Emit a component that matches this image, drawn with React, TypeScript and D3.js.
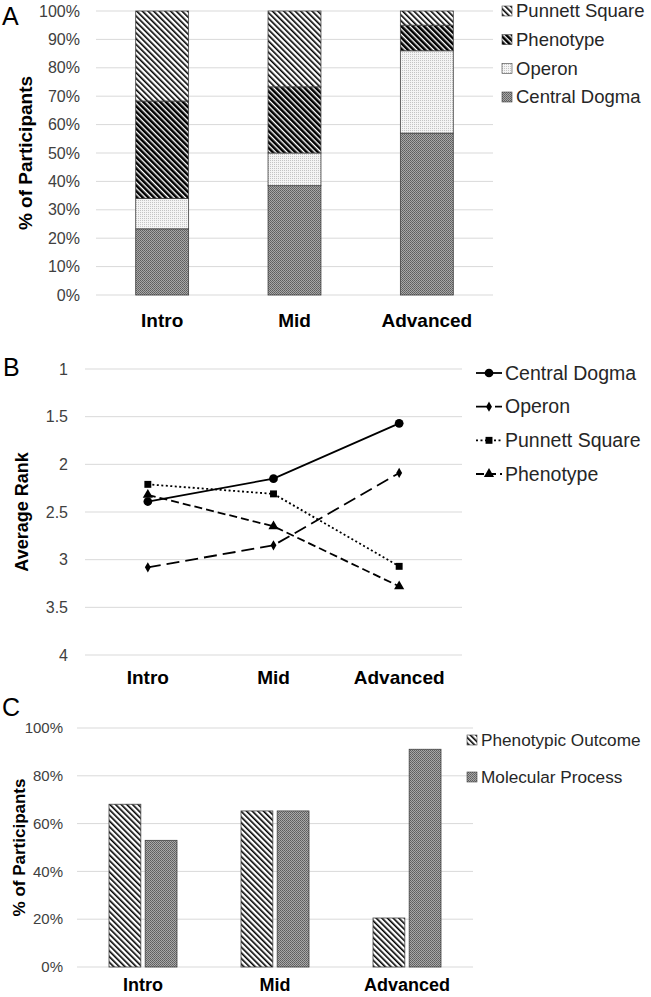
import React from "react";
import * as d3 from "d3";

const levels = ["Intro", "Mid", "Advanced"];

// Panel A: stacked % of participants
const stackKeys = ["Central Dogma", "Operon", "Phenotype", "Punnett Square"];
const centralDogmaPct = [23.3, 38.5, 57];
const operonPct = [10.7, 11.5, 29];
const phenotypePct = [34.3, 23.3, 9];
const punnettPct = [31.7, 26.7, 5];
const pctTicksA = [0, 10, 20, 30, 40, 50, 60, 70, 80, 90, 100];

// Panel B: average rank
const rankSeries = ["Central Dogma", "Operon", "Punnett Square", "Phenotype"];
const rankCentralDogma = [2.39, 2.15, 1.57];
const rankOperon = [3.08, 2.85, 2.09];
const rankPunnett = [2.21, 2.31, 3.07];
const rankPhenotype = [2.32, 2.65, 3.28];
const rankTicks = [1, 1.5, 2, 2.5, 3, 3.5, 4];

// Panel C: grouped bars
const groupKeys = ["Phenotypic Outcome", "Molecular Process"];
const phenotypicOutcome = [68.1, 65.3, 20.5];
const molecularProcess = [53, 65.3, 91.1];
const pctTicksC = [0, 20, 40, 60, 80, 100];

const FONT = "Liberation Sans, Arial, sans-serif";
const GRID = "#d9d9d9";
const TICK = "#404040";
const LEG = "#262626";
const EDGE = "#404040";

const fillFor: Record<string, string> = {
  "Central Dogma": "url(#pDots)",
  Operon: "url(#pLight)",
  Phenotype: "url(#pDarkDiag)",
  "Punnett Square": "url(#pDiag)",
  "Phenotypic Outcome": "url(#pDiag)",
  "Molecular Process": "url(#pDots)",
};

function Defs() {
  return (
    <defs>
      <pattern id="pDiag" width={4} height={4} patternUnits="userSpaceOnUse" patternTransform="rotate(-45)">
        <rect width={4} height={4} fill="#fff" />
        <rect width={1.6} height={4} fill="#000" />
      </pattern>
      <pattern id="pDarkDiag" width={4} height={4} patternUnits="userSpaceOnUse" patternTransform="rotate(-45)">
        <rect width={4} height={4} fill="#fff" />
        <rect width={2.6} height={4} fill="#000" />
      </pattern>
      <pattern id="pDots" width={2} height={2} patternUnits="userSpaceOnUse">
        <rect width={2} height={2} fill="#a8a8a8" />
        <rect width={1} height={1} fill="#5e5e5e" />
        <rect x={1} y={1} width={1} height={1} fill="#6a6a6a" />
      </pattern>
      <pattern id="pLight" width={2} height={2} patternUnits="userSpaceOnUse">
        <rect width={2} height={2} fill="#f4f4f4" />
        <rect width={1} height={1} fill="#c4c4c4" />
      </pattern>
    </defs>
  );
}

function PanelA() {
  const x = d3.scaleBand<string>().domain(levels).range([96, 493]).paddingInner(0.6).paddingOuter(0.3);
  const y = d3.scaleLinear().domain([0, 100]).range([295, 11]);
  const rows = levels.map((lv, i) => ({
    level: lv,
    "Central Dogma": centralDogmaPct[i],
    Operon: operonPct[i],
    Phenotype: phenotypePct[i],
    "Punnett Square": punnettPct[i],
  }));
  const stacked = d3.stack<any>().keys(stackKeys)(rows);
  const legendOrder = [...stackKeys].reverse();
  const legY = d3.scalePoint<string>().domain(legendOrder).range([11, 97]);
  return (
    <g>
      <text x={2} y={25} fontSize={25} fontFamily={FONT} fill="#000">A</text>
      {pctTicksA.map((t) => (
        <g key={t}>
          <line x1={96} x2={493} y1={y(t)} y2={y(t)} stroke={GRID} strokeWidth={1} />
          <text x={80} y={y(t)} dy="0.35em" textAnchor="end" fontSize={16} fontFamily={FONT} fill={TICK}>{t}%</text>
        </g>
      ))}
      <text transform={`translate(32,${(y(0) + y(100)) / 2}) rotate(-90)`} textAnchor="middle" fontSize={19} fontWeight="bold" fontFamily={FONT} fill="#000">% of Participants</text>
      {stacked.map((s) =>
        s.map((d, i) => (
          <rect key={s.key + i} x={x(levels[i])!} width={x.bandwidth()} y={y(d[1])} height={y(d[0]) - y(d[1])} fill={fillFor[s.key]} stroke={EDGE} strokeWidth={0.8} />
        ))
      )}
      {levels.map((lv) => (
        <text key={lv} x={x(lv)! + x.bandwidth() / 2} y={327} textAnchor="middle" fontSize={19} fontWeight="bold" fontFamily={FONT} fill="#000">{lv}</text>
      ))}
      {legendOrder.map((k) => (
        <g key={k}>
          <rect x={502} y={legY(k)! - 5} width={10} height={10} fill={fillFor[k]} stroke={EDGE} strokeWidth={0.6} />
          <text x={516} y={legY(k)!} dy="0.35em" fontSize={18.5} fontFamily={FONT} fill={LEG}>{k}</text>
        </g>
      ))}
    </g>
  );
}

const lineStyle: Record<string, { dash: string; marker: string }> = {
  "Central Dogma": { dash: "", marker: "circle" },
  Operon: { dash: "13,6", marker: "diamond" },
  "Punnett Square": { dash: "2,2.5", marker: "square" },
  Phenotype: { dash: "8,4", marker: "triangle" },
};

function Marker({ type, cx, cy }: { type: string; cx: number; cy: number }) {
  const size = type === "circle" ? 60 : type === "square" ? 48 : type === "triangle" ? 45 : 30;
  const sym =
    type === "circle" ? d3.symbolCircle : type === "square" ? d3.symbolSquare : type === "triangle" ? d3.symbolTriangle : d3.symbolDiamond;
  const path = d3.symbol().type(sym).size(size)()!;
  return <path d={path} transform={`translate(${cx},${cy})`} fill="#000" />;
}

function PanelB() {
  const x = d3.scalePoint<string>().domain(levels).range([85, 462]).padding(0.5);
  const y = d3.scaleLinear().domain([1, 4]).range([369, 655]);
  const data: Record<string, number[]> = {
    "Central Dogma": rankCentralDogma,
    Operon: rankOperon,
    "Punnett Square": rankPunnett,
    Phenotype: rankPhenotype,
  };
  const line = d3.line<number>().x((_, i) => x(levels[i])!).y((d) => y(d));
  const legY = d3.scalePoint<string>().domain(rankSeries).range([373, 474]);
  const drawOrder = ["Phenotype", "Operon", "Punnett Square", "Central Dogma"];
  return (
    <g>
      <text x={3} y={376} fontSize={25} fontFamily={FONT} fill="#000">B</text>
      {rankTicks.map((t) => (
        <g key={t}>
          <line x1={85} x2={462} y1={y(t)} y2={y(t)} stroke={GRID} strokeWidth={1} />
          <text x={68} y={y(t)} dy="0.35em" textAnchor="end" fontSize={16} fontFamily={FONT} fill={TICK}>{t}</text>
        </g>
      ))}
      <text transform={`translate(28,${(y(1) + y(4)) / 2}) rotate(-90)`} textAnchor="middle" fontSize={18} fontWeight="bold" fontFamily={FONT} fill="#000">Average Rank</text>
      {drawOrder.map((k) => (
        <g key={k}>
          <path d={line(data[k])!} fill="none" stroke="#000" strokeWidth={1.8} strokeDasharray={lineStyle[k].dash} />
          {data[k].map((v, i) => (
            <Marker key={i} type={lineStyle[k].marker} cx={x(levels[i])!} cy={y(v)} />
          ))}
        </g>
      ))}
      {levels.map((lv) => (
        <text key={lv} x={x(lv)!} y={684} textAnchor="middle" fontSize={19} fontWeight="bold" fontFamily={FONT} fill="#000">{lv}</text>
      ))}
      {rankSeries.map((k) => (
        <g key={k}>
          <line x1={476} x2={502} y1={legY(k)!} y2={legY(k)!} stroke="#000" strokeWidth={1.8} strokeDasharray={lineStyle[k].dash} />
          <Marker type={lineStyle[k].marker} cx={489} cy={legY(k)!} />
          <text x={505} y={legY(k)!} dy="0.35em" fontSize={19.5} fontFamily={FONT} fill={LEG}>{k}</text>
        </g>
      ))}
    </g>
  );
}

function PanelC() {
  const x = d3.scaleBand<string>().domain(levels).range([77, 473]);
  const y = d3.scaleLinear().domain([0, 100]).range([967, 728]);
  const inner = d3.scaleBand<string>().domain(groupKeys).range([-34, 34]).paddingInner(0.12);
  const data: Record<string, number[]> = {
    "Phenotypic Outcome": phenotypicOutcome,
    "Molecular Process": molecularProcess,
  };
  const legY = d3.scalePoint<string>().domain(groupKeys).range([740, 777]);
  return (
    <g>
      <text x={2} y={716} fontSize={25} fontFamily={FONT} fill="#000">C</text>
      {pctTicksC.map((t) => (
        <g key={t}>
          <line x1={77} x2={473} y1={y(t)} y2={y(t)} stroke={GRID} strokeWidth={1} />
          <text x={63} y={y(t)} dy="0.35em" textAnchor="end" fontSize={15} fontFamily={FONT} fill={TICK}>{t}%</text>
        </g>
      ))}
      <text transform={`translate(25,${(y(0) + y(100)) / 2}) rotate(-90)`} textAnchor="middle" fontSize={17} fontWeight="bold" fontFamily={FONT} fill="#000">% of Participants</text>
      {levels.map((lv, i) =>
        groupKeys.map((k) => {
          const cx = x(lv)! + x.bandwidth() / 2;
          return (
            <rect key={lv + k} x={cx + inner(k)!} width={inner.bandwidth()} y={y(data[k][i])} height={y(0) - y(data[k][i])} fill={fillFor[k]} stroke={EDGE} strokeWidth={0.8} />
          );
        })
      )}
      {levels.map((lv) => (
        <text key={lv} x={x(lv)! + x.bandwidth() / 2} y={991} textAnchor="middle" fontSize={18} fontWeight="bold" fontFamily={FONT} fill="#000">{lv}</text>
      ))}
      {groupKeys.map((k) => (
        <g key={k}>
          <rect x={467} y={legY(k)! - 5} width={10} height={10} fill={fillFor[k]} stroke={EDGE} strokeWidth={0.6} />
          <text x={481} y={legY(k)!} dy="0.35em" fontSize={17.2} fontFamily={FONT} fill={LEG}>{k}</text>
        </g>
      ))}
    </g>
  );
}

export default function App() {
  return (
    <svg width={651} height={997} style={{ position: "absolute", left: 0, top: 0, background: "#fff" }}>
      <rect width={651} height={997} fill="#fff" />
      <Defs />
      <PanelA />
      <PanelB />
      <PanelC />
    </svg>
  );
}
